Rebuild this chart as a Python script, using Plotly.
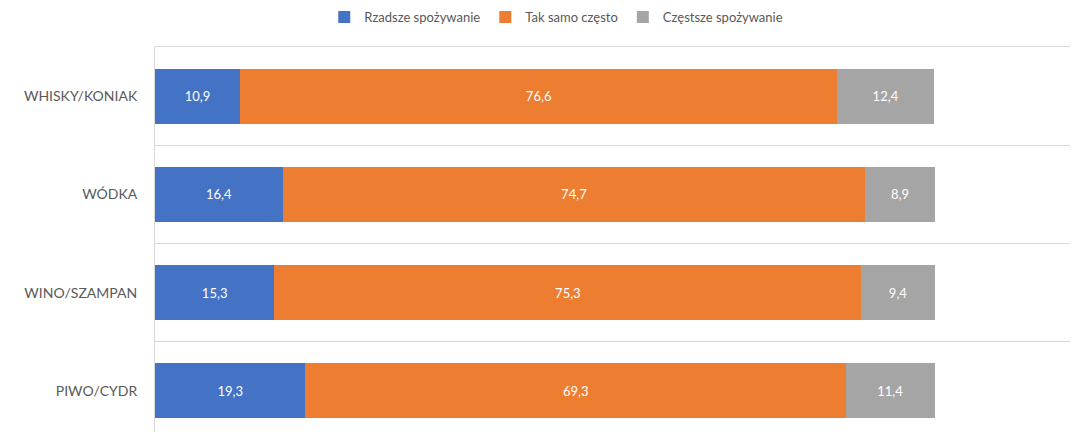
import plotly.graph_objects as go

categories = ["WHISKY/KONIAK", "WÓDKA", "WINO/SZAMPAN", "PIWO/CYDR"]
rzadziej = [10.9, 16.4, 15.3, 19.3]
tak_samo = [76.6, 74.7, 75.3, 69.3]
czesciej = [12.4, 8.9, 9.4, 11.4]

series = [
    ("Rzadsze spożywanie", rzadziej, "#4472C4"),
    ("Tak samo często", tak_samo, "#ED7D31"),
    ("Częstsze spożywanie", czesciej, "#A5A5A5"),
]

fig = go.Figure()
for name, vals, color in series:
    fig.add_trace(go.Bar(
        y=categories, x=vals, name=name, orientation="h",
        marker=dict(color=color, line=dict(width=0)),
        width=0.56,
        texttemplate="%{x:.1f}", textposition="inside", insidetextanchor="middle",
        textfont=dict(color="white", size=13, family="Lato"),
        hoverinfo="skip",
    ))

# page body has an 8px margin, so the figure is offset by 8px
fig.update_layout(
    barmode="stack",
    width=1078, height=432,
    margin=dict(l=147, r=0, t=39, b=0, autoexpand=False),
    plot_bgcolor="white", paper_bgcolor="white",
    separators=", ",
    font=dict(family="Lato", color="#595959"),
    legend=dict(orientation="h", x=0.431, xanchor="center", y=0.979, yanchor="middle",
                yref="container", font=dict(size=13, color="#595959"),
                itemwidth=30, traceorder="normal"),
)
# x axis kept only for its line along the top edge of the plot
fig.update_xaxes(range=[0, 119.4], side="top", showline=True, linecolor="#d9d9d9",
                 linewidth=1, showticklabels=False, ticks="", showgrid=False,
                 zeroline=False)
fig.update_yaxes(
    categoryorder="array", categoryarray=categories,
    range=[3.5, -0.5], tickson="boundaries", ticks="",
    showgrid=True, gridcolor="#d9d9d9", gridwidth=1,
    showline=True, linecolor="#d9d9d9", linewidth=1,
    tickfont=dict(size=14, color="#595959", family="Lato"),
    ticklabelstandoff=14,
)

fig.write_html("out.html")
